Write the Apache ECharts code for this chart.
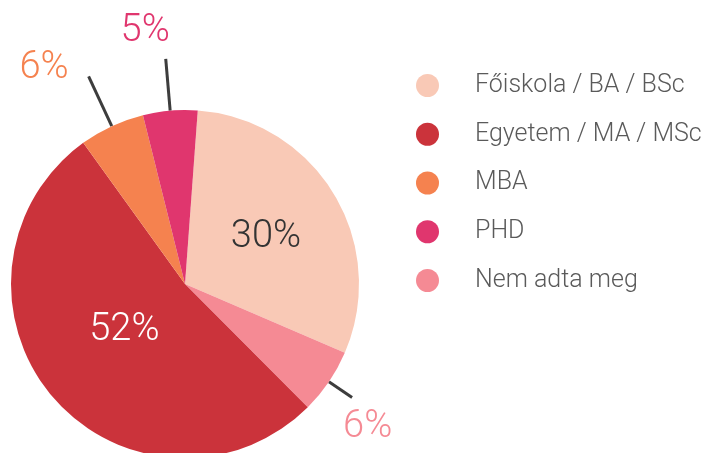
<!DOCTYPE html>
<html>
<head>
<meta charset="utf-8">
<script src="https://cdn.jsdelivr.net/npm/echarts@6/dist/echarts.min.js"></script>
<style>html,body{margin:0;padding:0;background:#fff}#c{width:706px;height:453px}</style>
</head>
<body>
<div id="c"></div>
<script>
// Slices in clockwise drawing order, starting near the top
const categories = ['Főiskola / BA / BSc', 'Nem adta meg', 'Egyetem / MA / MSc', 'MBA', 'PHD'];
const values = [30, 6, 52, 6, 5];
const legendOrder = ['Főiskola / BA / BSc', 'Egyetem / MA / MSc', 'MBA', 'PHD', 'Nem adta meg'];

const colors = {
  'Főiskola / BA / BSc': '#F9C9B6',
  'Nem adta meg': '#F58A94',
  'Egyetem / MA / MSc': '#CB333B',
  'MBA': '#F5824F',
  'PHD': '#E0366E'
};
const FONT = 'Roboto';
// shift: 'up' puts a blank line after the text, 'down' before it (lineHeight = 2 x offset)
const labelStyles = {
  'Főiskola / BA / BSc': { position: 'inside', color: '#333333', padding: [0, 0, 0, 8] },
  'Egyetem / MA / MSc': { position: 'inside', color: '#ffffff', padding: [0, 0, 0, 16], lineHeight: 24, shift: 'up' },
  'MBA': { position: 'outside', color: '#F5824F', distanceToLabelLine: 20, lineHeight: 16, shift: 'up' },
  'PHD': { position: 'outside', color: '#E0366E', distanceToLabelLine: -4, lineHeight: 54, shift: 'up' },
  'Nem adta meg': { position: 'outside', color: '#F58A94', distanceToLabelLine: -9, lineHeight: 60, shift: 'down' }
};
const lineLens = { 'MBA': 55, 'PHD': 52, 'Nem adta meg': 28 };

const data = categories.map((name, i) => {
  const st = Object.assign({}, labelStyles[name]);
  const shift = st.shift; delete st.shift;
  const item = {
    name: name,
    value: values[i],
    itemStyle: { color: colors[name] },
    label: Object.assign({
      show: true,
      formatter: p => shift === 'up' ? p.value + '%\n' : (shift === 'down' ? '\n' + p.value + '%' : p.value + '%')
    }, st)
  };
  if (lineLens[name] != null) {
    item.labelLine = { show: true, length: lineLens[name], length2: 0, lineStyle: { color: '#3d3d3d', width: 3 } };
  } else {
    item.labelLine = { show: false };
  }
  return item;
});

const chart = echarts.init(document.getElementById('c'), null, { renderer: 'canvas' });
chart.setOption({
  animation: false,
  legend: {
    data: legendOrder,
    orient: 'vertical',
    left: 411,
    top: 67,
    icon: 'circle',
    itemWidth: 23,
    itemHeight: 23,
    itemGap: 21.75,
    selectedMode: false,
    textStyle: {
      fontFamily: FONT,
      fontWeight: 300,
      fontSize: 25,
      lineHeight: 27,
      color: '#5a5a5a',
      padding: [0, 0, 0, 31]
    }
  },
  series: [{
    type: 'pie',
    center: [185, 284],
    radius: 174,
    startAngle: 85.8,
    clockwise: true,
    avoidLabelOverlap: false,
    silent: true,
    label: {
      fontFamily: FONT,
      fontWeight: 300,
      fontSize: 38
    },
    data: data
  }]
});
</script>
</body>
</html>
